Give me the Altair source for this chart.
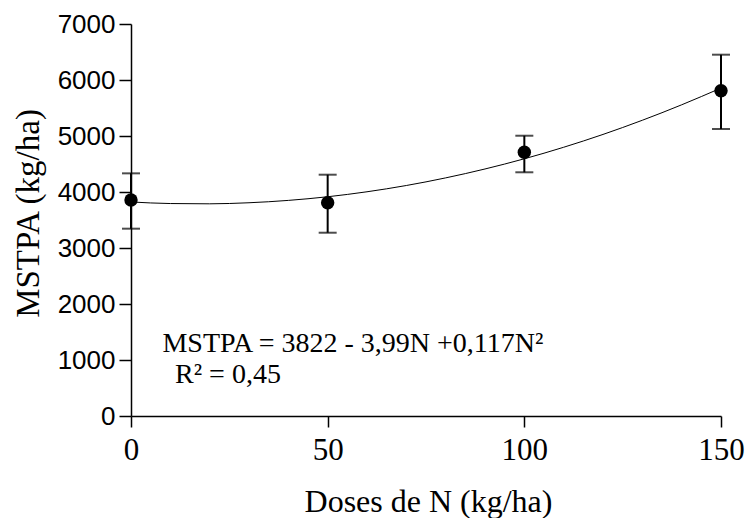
import altair as alt
import pandas as pd

# Observed means and error bar limits
doses = [0, 50, 100, 150]
mstpa = [3857, 3809, 4709, 5809]
err_low = [3345, 3273, 4352, 5125]
err_high = [4333, 4309, 5005, 6452]

# Fitted curve
curve_n = [0, 10, 20, 30, 40, 50, 60, 70, 80, 90, 100, 110, 120, 130, 140, 150]
curve_y = [3822, 3794, 3789, 3808, 3850, 3915, 4004, 4116, 4252, 4411, 4593,
           4799, 5028, 5281, 5557, 5856]

x_ticks = [0, 50, 100, 150]
y_ticks = [0, 1000, 2000, 3000, 4000, 5000, 6000, 7000]

eq_text = ["MSTPA = 3822 - 3,99N +0,117N²", "R² = 0,45"]
eq_n = [8, 11.2]
eq_y = [1143, 589]

pts = pd.DataFrame({"N": doses, "M": mstpa, "lo": err_low, "hi": err_high})
curve = pd.DataFrame({"N": curve_n, "M": curve_y})
ann = pd.DataFrame({"N": eq_n, "M": eq_y, "t": eq_text})

xs = alt.Scale(domain=[0, 150], nice=False, zero=False)
ys = alt.Scale(domain=[0, 7000], nice=False)

x_axis = alt.Axis(
    values=x_ticks, grid=False, title="Doses de N (kg/ha)", format="d",
    labelFont="Liberation Serif", labelFontSize=31, labelColor="black",
    labelPadding=8, labelFlush=False,
    tickSize=11, tickWidth=1.5, tickColor="black",
    domainColor="black", domainWidth=1.5,
    titleFont="Liberation Serif", titleFontSize=32, titleFontWeight="normal",
    titleColor="black", titleX=297, titleY=95, titleBaseline="alphabetic",
    titleAnchor="middle", titleAlign="center",
)
y_axis = alt.Axis(
    values=y_ticks, grid=False, title="MSTPA (kg/ha)", format="d",
    labelFont="Liberation Sans", labelFontSize=26, labelColor="black",
    labelPadding=4, labelFlush=False,
    tickSize=12, tickWidth=1.5, tickColor="black",
    domainColor="black", domainWidth=1.5,
    titleFont="Liberation Serif", titleFontSize=33, titleFontWeight="normal",
    titleColor="black", titleX=-93, titleY=189, titleAngle=270,
    titleBaseline="alphabetic", titleAlign="center",
)

line = alt.Chart(curve).mark_line(color="black", strokeWidth=1, interpolate="monotone").encode(
    x=alt.X("N:Q", scale=xs, axis=x_axis),
    y=alt.Y("M:Q", scale=ys, axis=y_axis),
)

bars = alt.Chart(pts).mark_rule(color="black", strokeWidth=2).encode(
    x=alt.X("N:Q", scale=xs),
    y=alt.Y("lo:Q", scale=ys),
    y2="hi:Q",
)
cap_lo = alt.Chart(pts).mark_tick(color="black", thickness=2, size=18, orient="horizontal").encode(
    x=alt.X("N:Q", scale=xs),
    y=alt.Y("lo:Q", scale=ys),
)
cap_hi = alt.Chart(pts).mark_tick(color="black", thickness=2, size=18, orient="horizontal").encode(
    x=alt.X("N:Q", scale=xs),
    y=alt.Y("hi:Q", scale=ys),
)
dots = alt.Chart(pts).mark_point(filled=True, color="black", size=180, opacity=1).encode(
    x=alt.X("N:Q", scale=xs),
    y=alt.Y("M:Q", scale=ys),
)
text = alt.Chart(ann).mark_text(
    font="Liberation Serif", fontSize=28, color="black", align="left", baseline="alphabetic"
).encode(
    x=alt.X("N:Q", scale=xs),
    y=alt.Y("M:Q", scale=ys),
    text="t:N",
)

chart = alt.layer(line, bars, cap_lo, cap_hi, dots, text).properties(
    width=590, height=392,
    autosize=alt.AutoSizeParams(type="none"),
    padding={"left": 131, "top": 24, "right": 26, "bottom": 102},
    background="white",
).configure_view(stroke=None)

chart.save("out.html", embed_options={"renderer": "svg", "actions": False})
